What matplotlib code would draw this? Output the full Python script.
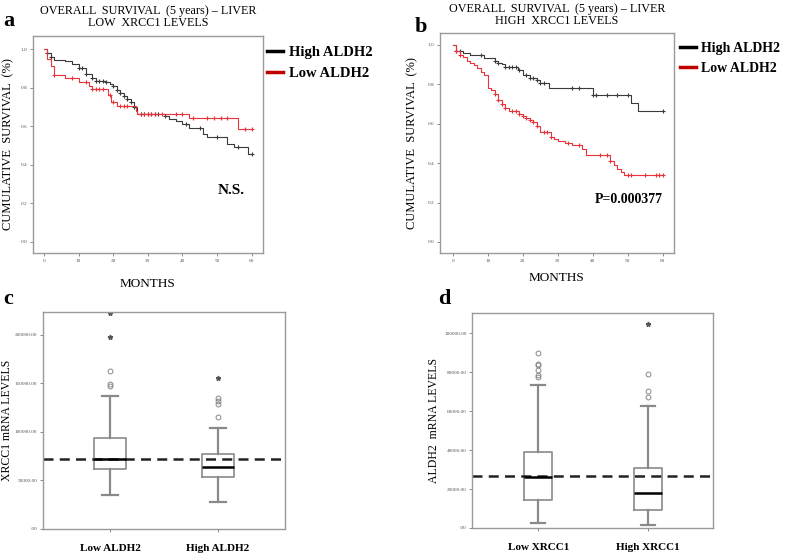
import numpy as np
import matplotlib
matplotlib.use('Agg')
import matplotlib.pyplot as plt

plt.rcParams['font.family'] = ['Liberation Serif', 'DejaVu Serif']

# ---- KM data (panel a: low XRCC1) ----
a_high_t = [0, 1, 2, 3, 6, 8, 10, 12, 14, 15, 18, 19, 20, 21, 22, 23, 24, 25, 26, 27, 35, 36, 38, 40, 42, 46, 47, 53, 55, 59]
a_high_s = [1.0, 0.98, 0.96, 0.943, 0.94, 0.92, 0.90, 0.87, 0.85, 0.835, 0.83, 0.82, 0.81, 0.79, 0.77, 0.755, 0.74, 0.725, 0.70, 0.665, 0.655, 0.64, 0.625, 0.61, 0.59, 0.56, 0.545, 0.51, 0.49, 0.455]
a_high_cens = [1, 2, 10, 11, 12, 14, 15, 16, 17, 18, 20, 21, 22, 23, 24, 25, 26, 28, 29, 30, 31, 32, 33, 35, 41, 45, 50, 56, 60]
a_low_t = [0, 1, 2, 3, 6, 10, 13, 14, 18.5, 19.5, 21, 26.5, 27, 42, 56]
a_low_s = [1.0, 0.95, 0.91, 0.865, 0.848, 0.831, 0.808, 0.791, 0.762, 0.727, 0.705, 0.68, 0.665, 0.641, 0.585]
a_low_cens = [3, 8, 12, 14, 15, 16, 17, 19, 20, 22, 23, 24, 28, 29, 30, 31, 32, 34, 38, 40, 43, 47, 49, 51, 53, 58, 60]

# ---- KM data (panel b: high XRCC1) ----
b_high_t = [0, 1, 3, 5, 9, 12, 13, 14, 15, 18.5, 20, 22, 24, 25, 27.5, 40, 51, 53]
b_high_s = [1.0, 0.971, 0.958, 0.95, 0.932, 0.919, 0.91, 0.902, 0.89, 0.873, 0.848, 0.831, 0.82, 0.806, 0.78, 0.747, 0.704, 0.662]
b_high_cens = [1, 2, 8, 12, 13, 15, 16, 17, 18, 19, 21, 22, 23, 24, 25, 26, 34, 36, 40, 41, 44, 47, 50, 60]
b_low_t = [0, 1, 2, 3, 4, 5, 6, 7, 8, 9, 10, 11, 12, 13, 14, 15, 16, 19, 20, 21, 22, 23, 24, 25, 28, 29, 30, 32, 34, 37, 38, 45, 46, 47, 48, 49]
b_low_s = [1.0, 0.97, 0.95, 0.94, 0.92, 0.91, 0.90, 0.88, 0.86, 0.848, 0.78, 0.77, 0.75, 0.72, 0.70, 0.68, 0.665, 0.65, 0.64, 0.63, 0.62, 0.611, 0.59, 0.556, 0.53, 0.52, 0.51, 0.50, 0.49, 0.47, 0.44, 0.41, 0.39, 0.37, 0.355, 0.342]
b_low_cens = [1, 2, 12, 13, 14, 15, 17, 18, 19, 20, 21, 22, 23, 24, 26, 27, 28, 33, 36, 42, 44, 45, 50, 51, 55, 58, 59, 60]

km_yticks = [0.0, 0.2, 0.4, 0.6, 0.8, 1.0]
km_xticks = [0, 10, 20, 30, 40, 50, 60]

# ---- box plot data (panel c: XRCC1 by ALDH2) ----
c_groups = ['Low ALDH2', 'High ALDH2']
c_whislo = [34600, 28000]
c_q1 = [62000, 53000]
c_med = [72400, 64000]
c_q3 = [93700, 77500]
c_whishi = [136500, 104000]
c_circles = [[146800, 149600, 162000], [115000, 128600, 132000, 135000]]
c_stars = [[197000, 222000], [155000]]
c_cut = 72400
c_yticks = [0, 50000, 100000, 150000, 200000]

# ---- box plot data (panel d: ALDH2 by XRCC1) ----
d_groups = ['Low XRCC1', 'High XRCC1']
d_whislo = [2700, 1700]
d_q1 = [14600, 9300]
d_med = [26200, 17800]
d_q3 = [39100, 30900]
d_whishi = [73400, 62900]
d_circles = [[77500, 78400, 81000, 83700, 84400, 89900], [67200, 70300, 79000]]
d_stars = [[], [105000]]
d_cut = 26800
d_yticks = [0, 20000, 40000, 60000, 80000, 100000]

GRAY = '#8a8a8a'
KM_BLACK = '#3a3a3a'
KM_RED = '#e8333b'

fig = plt.figure(figsize=(7.87, 5.56), dpi=100)


def style_axes(ax):
    for sp in ax.spines.values():
        sp.set_color('#9a9a9a')
        sp.set_linewidth(1.0)
    ax.tick_params(length=2, width=0.6, color='#777777', labelsize=3.8, labelcolor='#555555', pad=2)


def km_panel(ax, curves, xlim, ylim, ylab_x, xlab_y, leg_x, leg_y, leg_size):
    for t, s, cens, col in curves:
        t = np.asarray(t, float)
        s = np.asarray(s, float)
        tt = np.append(t, 60)
        ss = np.append(s, s[-1])
        ax.step(tt, ss, where='post', color=col, lw=0.8)
        ct = np.asarray(cens, float)
        idx = np.searchsorted(t, ct, side='right') - 1
        ax.plot(ct, s[idx], '+', color=col, ms=3.5, mew=0.8)
    ax.set_xlim(*xlim)
    ax.set_ylim(*ylim)
    ax.set_xticks(km_xticks)
    ax.set_yticks(km_yticks)
    ax.set_yticklabels(['%.1f' % v for v in km_yticks])
    ax.set_xlabel('MONTHS', fontsize=9.5)
    ax.set_ylabel('CUMULATIVE  SURVIVAL  (%)', fontsize=9)
    ax.yaxis.set_label_coords(ylab_x, 0.5)
    ax.xaxis.set_label_coords(0.5, xlab_y)
    style_axes(ax)
    h1, = ax.plot([], [], color='black', lw=2.5)
    h2, = ax.plot([], [], color='#c00000', lw=2.5)
    ax.legend([h1, h2], ['High ALDH2', 'Low ALDH2'], loc='upper left',
              bbox_to_anchor=(leg_x, leg_y), frameon=False, handlelength=1.15,
              handletextpad=0.35, labelspacing=0.55, borderaxespad=0, borderpad=0,
              prop={'family': 'Liberation Serif', 'size': leg_size, 'weight': 'bold'})


def box_panel(ax, groups, whislo, q1, med, q3, whishi, circles, stars, cut, yticks, ylim, xlim, width, ylabel, ylab_x):
    stats = []
    for i in range(len(groups)):
        stats.append(dict(label=groups[i], whislo=whislo[i], q1=q1[i], med=med[i],
                          q3=q3[i], whishi=whishi[i], fliers=[]))
    ax.bxp(stats, positions=[1, 2], widths=width, showfliers=False,
           boxprops=dict(color=GRAY, lw=1.2),
           whiskerprops=dict(color=GRAY, lw=1.6),
           capprops=dict(color=GRAY, lw=1.6),
           medianprops=dict(color='black', lw=1.8))
    for i in range(len(groups)):
        ax.plot([i + 1] * len(circles[i]), circles[i], 'o', mfc='none', mec='#888888', ms=3.5, mew=0.7)
        if stars[i]:
            ax.plot([i + 1] * len(stars[i]), stars[i], '*', color='#555555', ms=3.5)
    ax.axhline(cut, color='#222222', lw=1.8, ls=(0, (4, 2.5)))
    ax.set_xlim(*xlim)
    ax.set_ylim(*ylim)
    ax.set_yticks(yticks)
    ax.set_yticklabels(['.00' if v == 0 else '%d.00' % v for v in yticks])
    ax.set_xticks([1, 2])
    style_axes(ax)
    ax.set_xticklabels(groups, fontsize=8, color='black', fontweight='bold')
    ax.tick_params(axis='x', pad=9)
    ax.set_ylabel(ylabel, fontsize=8.5)
    ax.yaxis.set_label_coords(ylab_x, 0.5)


ax_a = fig.add_axes([0.0419, 0.545, 0.292, 0.390])
km_panel(ax_a, [(a_high_t, a_high_s, a_high_cens, KM_BLACK), (a_low_t, a_low_s, a_low_cens, KM_RED)],
         (-3.17, 63.2), (-0.057, 1.067), -0.083, -0.115, 1.017, 0.955, 10.5)
ax_a.text(0.92, 0.29, 'N.S.', transform=ax_a.transAxes, ha='right', va='center', fontsize=11, fontweight='bold')
ax_a.set_title('OVERALL  SURVIVAL  (5 years) – LIVER\nLOW  XRCC1 LEVELS', fontsize=8.7, linespacing=1.0, pad=7)

ax_b = fig.add_axes([0.559, 0.545, 0.297, 0.396])
km_panel(ax_b, [(b_high_t, b_high_s, b_high_cens, KM_BLACK), (b_low_t, b_low_s, b_low_cens, KM_RED)],
         (-3.71, 63.1), (-0.056, 1.061), -0.094, -0.086, 1.026, 0.96, 10)
ax_b.text(0.953, 0.241, 'P=0.000377', transform=ax_b.transAxes, ha='right', va='center', fontsize=10, fontweight='bold')
ax_b.set_title('OVERALL  SURVIVAL  (5 years) – LIVER\nHIGH  XRCC1 LEVELS', fontsize=8.7, linespacing=1.0, pad=6)

ax_c = fig.add_axes([0.0546, 0.0486, 0.3075, 0.390])
box_panel(ax_c, c_groups, c_whislo, c_q1, c_med, c_q3, c_whishi, c_circles, c_stars, c_cut,
          c_yticks, (0, 223000), (0.38, 2.62), 0.30, 'XRCC1 mRNA LEVELS', -0.122)

ax_d = fig.add_axes([0.600, 0.0504, 0.306, 0.387])
box_panel(ax_d, d_groups, d_whislo, d_q1, d_med, d_q3, d_whishi, d_circles, d_stars, d_cut,
          d_yticks, (0, 110600), (0.40, 2.59), 0.26, 'ALDH2  mRNA LEVELS', -0.133)

for lbl, x, y in [('a', 0.004, 0.962), ('b', 0.527, 0.952), ('c', 0.004, 0.462), ('d', 0.557, 0.462)]:
    fig.text(x, y, lbl, fontsize=16, fontweight='bold', va='center')

fig.savefig('out.png', dpi=100)
